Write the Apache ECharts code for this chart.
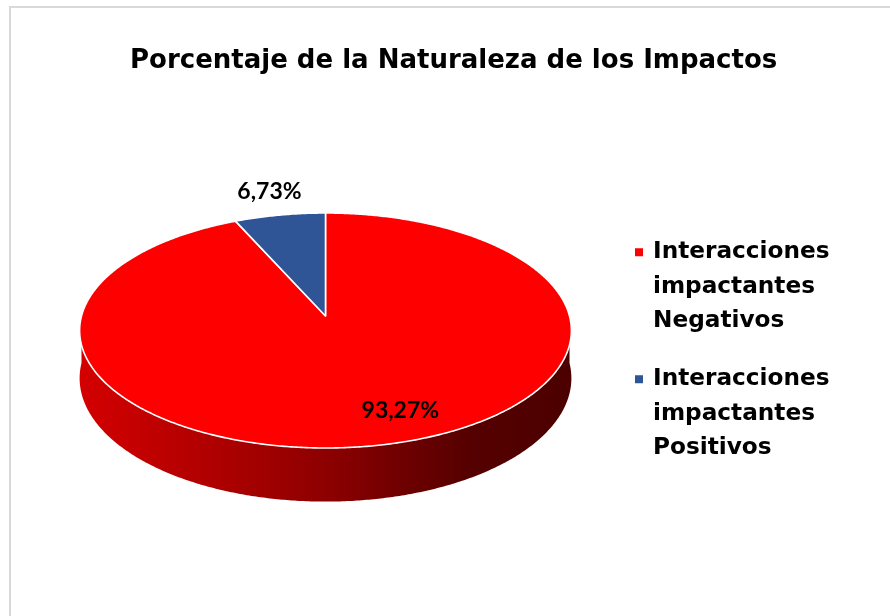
<!DOCTYPE html>
<html>
<head>
<meta charset="utf-8">
<script src="https://cdn.jsdelivr.net/npm/echarts@6/dist/echarts.min.js"></script>
<style>
  html, body { margin: 0; padding: 0; background: #ffffff; }
  #chart { width: 890px; height: 616px; }
</style>
</head>
<body>
<div id="chart"></div>
<script>
// Categories and their shares (percent)
const categories = ['Interacciones\nimpactantes\nNegativos', 'Interacciones\nimpactantes\nPositivos'];
const values = [93.27, 6.73];
const colors = ['#ff0000', '#2f5597'];
const titleText = 'Porcentaje de la Naturaleza de los Impactos';

// Tilted disc: centre, radii, perspective factor and wall height (px)
const disc = { cx: 325.5, cy: 316, rx: 244, ry: 115.7, persp: 0.1234, depth: 47 };
// Radial position of each value label (fraction of radius) and nudge
const labelRadius = [0.76, 1.26];
const labelShift = [[32, 0], [0, -1]];

const total = values.reduce((a, b) => a + b, 0);

// Project a point on the disc (angle a, radius fraction r) to the screen
function project(a, r, drop) {
  const u = Math.cos(a) * r, v = Math.sin(a) * r;
  const s = 1 / (1 + disc.persp * v);
  return [disc.cx + disc.rx * u * s, disc.cy - disc.ry * v * s + (drop || 0) * s];
}

function formatPct(v) {
  return v.toFixed(2).replace('.', ',') + '%';
}

const wallGradient = () => new echarts.graphic.LinearGradient(0, 0, 1, 0, [
  { offset: 0, color: '#d40000' },
  { offset: 0.35, color: '#a40000' },
  { offset: 0.51, color: '#8c0000' },
  { offset: 0.61, color: '#780000' },
  { offset: 0.79, color: '#560000' },
  { offset: 1, color: '#4c0000' }
]);

function renderSlice(idx) {
  return function (params, api) {
    const val = api.value(0);
    let start = Math.PI / 2;
    for (let j = 0; j < idx; j++) start -= 2 * Math.PI * values[j] / total;
    const end = start - 2 * Math.PI * val / total;
    const step = Math.PI / 360;
    const children = [];

    // Outer wall on the near half of the disc (angles -PI..0, modulo 2PI)
    [0, -2 * Math.PI].forEach(function (off) {
      const lo = Math.max(end, -Math.PI + off);
      const hi = Math.min(start, 0 + off);
      if (hi > lo) {
        const pts = [];
        for (let a = hi; a >= lo; a -= step) pts.push(project(a, 1, 0));
        pts.push(project(lo, 1, 0));
        const bottom = [];
        for (let a = hi; a >= lo; a -= step) bottom.push(project(a, 1, disc.depth));
        bottom.push(project(lo, 1, disc.depth));
        bottom.reverse();
        children.push({
          type: 'polygon',
          shape: { points: pts.concat(bottom) },
          style: { fill: wallGradient(), stroke: null }
        });
      }
    });

    // Top face
    const top = [project(0, 0, 0)];
    for (let a = start; a > end; a -= step) top.push(project(a, 1, 0));
    top.push(project(end, 1, 0));
    children.push({
      type: 'polygon',
      shape: { points: top },
      style: { fill: colors[idx], stroke: '#ffffff', lineWidth: 1.6, lineJoin: 'round' }
    });

    // Value label
    const mid = (start + end) / 2;
    const p = project(mid, labelRadius[idx], 0);
    children.push({
      type: 'text',
      style: {
        text: formatPct(val),
        x: p[0] + labelShift[idx][0],
        y: p[1] + labelShift[idx][1],
        align: 'center',
        verticalAlign: 'middle',
        font: 'bold 23px Lato',
        fill: '#000000'
      }
    });

    return { type: 'group', children: children };
  };
}

// Legend marker: small square at the top of a tall transparent box,
// so it lines up with the first line of a three-line label
const legendMarker = 'path://M0,0H8V8H0Z M13,77H13.001V77Z';

const chart = echarts.init(document.getElementById('chart'), null, { renderer: 'canvas' });

chart.setOption({
  backgroundColor: '#ffffff',
  animation: false,
  title: {
    text: titleText,
    left: 130,
    top: 48,
    padding: 0,
    textStyle: {
      fontFamily: 'DejaVu Sans',
      fontWeight: 'bold',
      fontSize: 26,
      color: '#000000'
    }
  },
  legend: {
    orient: 'vertical',
    left: 630,
    top: 230,
    icon: legendMarker,
    itemWidth: 13,
    itemHeight: 77,
    itemGap: 23.5,
    selectedMode: false,
    data: categories,
    textStyle: {
      fontFamily: 'DejaVu Sans',
      fontWeight: 'bold',
      fontSize: 23.2,
      lineHeight: 34.5,
      color: '#000000'
    }
  },
  graphic: [{
    type: 'rect',
    shape: { x: 10, y: 7, width: 900, height: 700 },
    style: { fill: null, stroke: '#d9d9d9', lineWidth: 2 },
    silent: true
  }],
  series: values.map(function (v, i) {
    return {
      type: 'custom',
      name: categories[i],
      coordinateSystem: 'none',
      itemStyle: { color: colors[i] },
      silent: true,
      data: [[v]],
      renderItem: renderSlice(i)
    };
  })
});
</script>
</body>
</html>
